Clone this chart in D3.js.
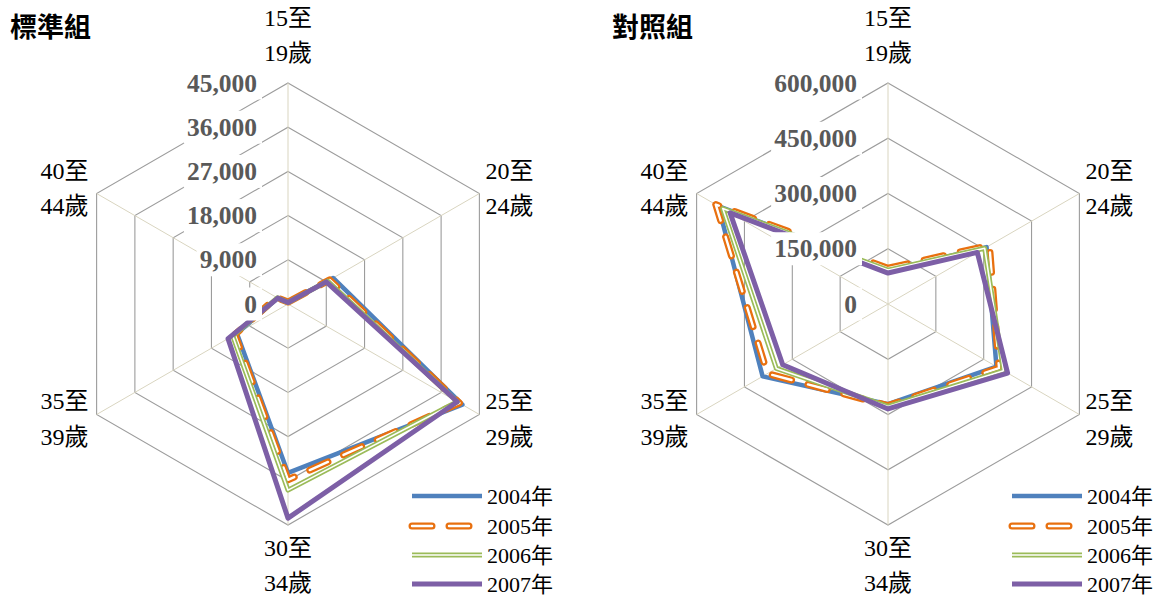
<!DOCTYPE html>
<html>
<head>
<meta charset="utf-8">
<script src="https://cdn.jsdelivr.net/npm/d3@7/dist/d3.min.js"></script>
<style>
html,body{margin:0;padding:0;background:#fff;}
svg{display:block;}
</style>
</head>
<body>
<svg id="chart" width="1169" height="598"></svg>
<script>
// ---- data ----
const catLine1 = ["15至", "20至", "25至", "30至", "35至", "40至"];
const catLine2 = ["19歲", "24歲", "29歲", "34歲", "39歲", "44歲"];
const seriesNames = ["2004年", "2005年", "2006年", "2007年"];

const titleLeft = "標準組";
const ticksLeft = [0, 9000, 18000, 27000, 36000, 45000];
const std2004 = [300, 10600, 41000, 34400, 12000, 2400];
const std2005 = [400, 9800, 40300, 35800, 12500, 2700];
const std2006 = [300, 9300, 39800, 37900, 13000, 2500];
const std2007 = [300, 9000, 39800, 43600, 14100, 2400];

const titleRight = "對照組";
const ticksRight = [0, 150000, 300000, 450000, 600000];
const ctl2004 = [90000, 309000, 340000, 272000, 393000, 532000];
const ctl2005 = [97000, 318000, 348000, 276000, 378000, 540000];
const ctl2006 = [92000, 303000, 362000, 278000, 350000, 518000];
const ctl2007 = [84000, 280000, 375000, 285000, 330000, 495000];

// ---- drawing ----
const svg = d3.select("#chart");
const SERIF = "'Liberation Serif','Times New Roman','Noto Sans CJK TC',serif";
const R = 221;

const styles = [
  [{stroke:"#4f81bd", w:4.5}],
  [{stroke:"#e8700f", w:7, dash:"20 17", cap:"round"}, {stroke:"#ffffff", w:2.4, dash:"20 17", cap:"round"}],
  [{stroke:"#9bbb59", w:5}, {stroke:"#ffffff", w:1.6}],
  [{stroke:"#7d5fa6", w:5}]
];

function drawStyled(g, d, k) {
  styles[k].forEach(s => {
    g.append("path").attr("d", d)
      .attr("fill", "none")
      .attr("stroke", s.stroke)
      .attr("stroke-width", s.w)
      .attr("stroke-linejoin", "round")
      .attr("stroke-linecap", s.cap || "butt")
      .attr("stroke-dasharray", s.dash || null);
  });
}

function radar(cfg) {
  const g = svg.append("g").attr("transform", `translate(${cfg.cx},${cfg.cy})`);
  const r = d3.scaleLinear().domain([0, cfg.max]).range([0, R]);
  const ang = i => i * Math.PI / 3;
  const line = d3.lineRadial().angle((d, i) => ang(i)).radius(d => r(d)).curve(d3.curveLinearClosed);

  // rings
  cfg.ticks.filter(t => t > 0).forEach(t => {
    g.append("path").attr("d", line(catLine1.map(() => t)))
      .attr("fill", "none").attr("stroke", "#9c9c9c").attr("stroke-width", 1.1);
  });
  // spokes
  catLine1.forEach((c, i) => {
    const a = ang(i);
    g.append("line").attr("x1", 0).attr("y1", 0)
      .attr("x2", r(cfg.max) * Math.sin(a)).attr("y2", -r(cfg.max) * Math.cos(a))
      .attr("stroke", "#d9d5c0").attr("stroke-width", 1);
  });
  // series
  cfg.series.forEach((vals, k) => drawStyled(g, line(vals), k));

  // tick labels with white boxes
  const fmt = d3.format(",");
  cfg.ticks.forEach(t => {
    const tg = g.append("g");
    const txt = tg.append("text")
      .attr("x", -31).attr("y", -r(t))
      .attr("text-anchor", "end").attr("dominant-baseline", "central")
      .attr("font-family", SERIF).attr("font-weight", "bold")
      .attr("font-size", 25.5).attr("fill", "#595959")
      .text(fmt(t));
    const bb = txt.node().getBBox();
    tg.insert("rect", "text")
      .attr("x", bb.x - 3).attr("y", bb.y - 2)
      .attr("width", bb.width + 8).attr("height", bb.height + 4)
      .attr("fill", "#fff");
  });

  // category labels
  catLine1.forEach((c, i) => {
    const a = ang(i);
    const vx = R * Math.sin(a), vy = -R * Math.cos(a);
    let x, anchor, y1, y2;
    if (i === 0) { x = 0; anchor = "middle"; y1 = vy - 65; y2 = vy - 30; }
    else if (i === 3) { x = 0; anchor = "middle"; y1 = vy + 23; y2 = vy + 58; }
    else {
      if (vx > 0) { x = vx + 6; anchor = "start"; } else { x = vx - 8; anchor = "end"; }
      if (vy < 0) { y1 = vy - 23; y2 = vy + 12; } else { y1 = vy - 14; y2 = vy + 22; }
    }
    [[c, y1], [catLine2[i], y2]].forEach(([s, yy]) => {
      g.append("text").attr("x", x).attr("y", yy)
        .attr("text-anchor", anchor).attr("dominant-baseline", "central")
        .attr("font-family", SERIF).attr("font-size", 24).attr("fill", "#000")
        .text(s);
    });
  });

  // title
  svg.append("text").attr("x", cfg.titleX).attr("y", 25)
    .attr("dominant-baseline", "central")
    .attr("font-family", "'Noto Sans CJK TC','Noto Sans CJK SC',sans-serif")
    .attr("font-weight", "bold").attr("font-size", 27).attr("fill", "#000")
    .text(cfg.title);

  // legend
  const legY = [496, 526, 555, 584];
  seriesNames.forEach((n, k) => {
    const lg = svg.append("g");
    drawStyled(lg, `M${cfg.legendX},${legY[k]}H${cfg.legendX + 70}`, k);
    lg.append("text").attr("x", cfg.legendX + 75).attr("y", legY[k])
      .attr("dominant-baseline", "central")
      .attr("font-family", SERIF).attr("font-size", 22).attr("fill", "#000")
      .text(n);
  });
}

radar({cx: 288, cy: 304, max: 45000, ticks: ticksLeft, series: [std2004, std2005, std2006, std2007], title: titleLeft, titleX: 10, legendX: 412});
radar({cx: 888, cy: 304, max: 600000, ticks: ticksRight, series: [ctl2004, ctl2005, ctl2006, ctl2007], title: titleRight, titleX: 612, legendX: 1012});
</script>
</body>
</html>
